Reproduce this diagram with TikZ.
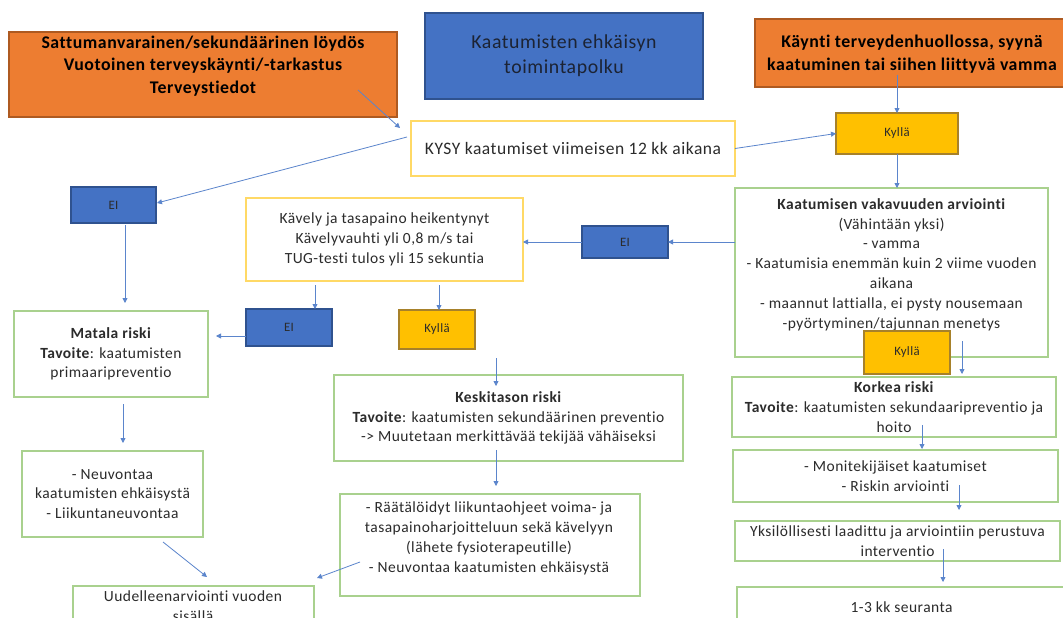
\documentclass[tikz,border=0pt]{standalone}
\usepackage{fontspec}
\setmainfont{Carlito}[LetterSpace=3,Ligatures={CommonOff}]
\usetikzlibrary{arrows.meta,calc}
\definecolor{org}{HTML}{ED7D31}
\definecolor{orgD}{HTML}{AE5A21}
\definecolor{blu}{HTML}{4472C4}
\definecolor{bluD}{HTML}{2F528F}
\definecolor{gold}{HTML}{FFC000}
\definecolor{goldD}{HTML}{A7812A}
\definecolor{yel}{HTML}{FFD966}
\definecolor{grn}{HTML}{A9D18E}
\definecolor{tx}{HTML}{2B2B2B}
\definecolor{ttl}{HTML}{1C2333}
\definecolor{arrc}{HTML}{5B85CC}
\begin{document}
\begin{tikzpicture}[x=1pt,y=-1pt,
  base/.style={inner sep=0pt, outer sep=0pt, align=center, text=tx},
  orgbox/.style={base, fill=org, draw=orgD, line width=1.2pt},
  bluebox/.style={base, fill=blu, draw=bluD, line width=1.2pt},
  kbox/.style={base, fill=gold, draw=goldD, line width=1.2pt},
  ybox/.style={base, fill=white, draw=yel, line width=1.6pt},
  gbox/.style={base, fill=white, draw=grn, line width=1.6pt},
  sz/.style n args={2}{minimum width=#1, minimum height=#2},
  body/.style={font=\fontsize{15.5pt}{19.8pt}\selectfont},
  small/.style={font=\fontsize{12.8pt}{16pt}\selectfont},
  big/.style={font=\fontsize{17.8pt}{22.5pt}\selectfont\bfseries, text=black},
  txt/.style={base, body},
  arr/.style={draw=arrc, line width=0.8pt, -{Triangle[length=5pt,width=5pt]}}
]
\useasboundingbox (0,0) rectangle (1063,618);
\fill[white] (0,0) rectangle (1063,618);

% top row
\node[orgbox, sz={388}{85}] (orgL) at (203,74.5) {};
\node[base, big] (orgLt) at (203,66) {Sattumanvarainen/sekundäärinen löydös\\Vuotoinen terveyskäynti/-tarkastus\\Terveystiedot};
\node[bluebox, sz={278}{86}, text=ttl, font=\fontsize{19.8pt}{25pt}\selectfont] (title) at (564,56) {Kaatumisten ehkäisyn\\toimintapolku};
\node[orgbox, sz={311}{68}] (orgR) at (910.5,53) {};
\node[base, big] (orgRt) at (912,54) {Käynti terveydenhuollossa, syynä\\kaatuminen tai siihen liittyvä vamma};

\node[ybox, sz={324}{55}, font=\fontsize{17.5pt}{20pt}\selectfont] (kysy) at (573,148.5) {KYSY kaatumiset viimeisen 12 kk aikana};
\node[kbox, sz={122}{41}, small] (kylT) at (897,133.5) {Kyllä};

% assessment
\node[gbox, sz={313}{169}] (vak) at (891.5,272.5) {};
\node[txt] (vakt) at (891.5,264.5) {\textbf{Kaatumisen vakavuuden arviointi}\\(Vähintään yksi)\\- vamma\\- Kaatumisia enemmän kuin 2 viime vuoden\\aikana\\- maannut lattialla, ei pysty nousemaan\\-pyörtyminen/tajunnan menetys};
\node[kbox, sz={86}{43}, small] (kylL) at (907,352.5) {Kyllä};
\node[bluebox, sz={86}{32}, small] (eiR) at (625,242) {EI};

\node[ybox, sz={277}{83}, body] (kav) at (384.5,239.5) {Kävely ja tasapaino heikentynyt\\Kävelyvauhti yli 0,8 m/s tai\\TUG-testi tulos yli 15 sekuntia};
\node[bluebox, sz={85}{36}, small] (eiTL) at (113.5,205) {EI};
\node[gbox, sz={194}{86}, body] (mat) at (111,354) {\textbf{Matala riski}\\\textbf{Tavoite}: kaatumisten\\primaaripreventio};
\node[bluebox, sz={86}{37}, small] (eiM) at (289,327.5) {EI};
\node[kbox, sz={76}{39}, small] (kylM) at (437,329.5) {Kyllä};

\node[gbox, sz={349}{86}, body] (kesk) at (508.5,418) {\textbf{Keskitason riski}\\\textbf{Tavoite}: kaatumisten sekundäärinen preventio\\-> Muutetaan merkittävää tekijää vähäiseksi};
\node[gbox, sz={324}{60}, body] (kork) at (894,407) {\textbf{Korkea riski}\\\textbf{Tavoite}: kaatumisten sekundaaripreventio ja\\hoito};
\node[gbox, sz={325}{52}, body] (moni) at (895.5,476) {- Monitekijäiset kaatumiset\\- Riskin arviointi};
\node[gbox, sz={325}{40}, body] (yks) at (897.5,541) {Yksilöllisesti laadittu ja arviointiin perustuva\\interventio};
\node[gbox, sz={329}{40}, body] (seur) at (901.5,607) {1-3 kk seuranta};

\node[gbox, sz={181}{86}, body] (neuv) at (112.5,494) {- Neuvontaa\\kaatumisten ehkäisystä\\- Liikuntaneuvontaa};
\node[gbox, sz={300}{102}] (raat) at (490,545) {};
\node[txt] (raatt) at (489,538.5) {- Räätälöidyt liikuntaohjeet voima- ja\\tasapainoharjoitteluun sekä kävelyyn\\(lähete fysioterapeutille)\\- Neuvontaa kaatumisten ehkäisystä};
\node[gbox, sz={241}{64}] (uud) at (193.5,618) {};
\node[txt] (uudt) at (193,606) {Uudelleenarviointi vuoden\\sisällä};

% connectors
\draw[arr] ($(orgL.south east)+(-39,-27)$) -- ($(kysy.north west)+(-11,7)$);
\draw[arr] ($(kysy.west)+(-4,-11.5)$) -- ($(eiTL.east)+(1,-2)$);
\draw[arr] (kysy.east) -- (kylT.west);
\draw[arr] ($(kylT.north |- orgR.south)+(0,-12)$) -- (kylT.north);
\draw[arr] (kylT.south) -- (kylT.south |- vak.north);
\draw[arr] (eiR.east -| vak.west) -- (eiR.east);
\draw[arr] (eiR.west) -- (eiR.west -| kav.east);
\draw[arr] ($(eiTL.south)+(11.5,2)$) -- ($(mat.north)+(14,-8)$);
\draw[arr] ($(kav.south)+(-69.5,4)$) -- ($(eiM.north)+(26,0)$);
\draw[arr] ($(kav.south)+(54.5,4)$) -- ($(kylM.north)+(2,0)$);
\draw[arr] ($(eiM.west)+(0,8.5)$) -- ($(mat.east)+(8,-18)$);
\draw[arr] ($(kylM.south)+(59,9)$) -- ($(kesk.north)+(-12.5,11)$);
\draw[arr] ($(kylL.east)+(12,-11.5)$) -- ($(kork.north)+(68,-3)$);
\draw[arr] ($(mat.south)+(12,7)$) -- ($(neuv.north)+(10.5,-8)$);
\draw[arr] ($(kesk.south)+(-12.5,-11)$) -- ($(raat.north)+(6,-8)$);
\draw[arr] ($(kork.south)+(28,-12)$) -- ($(moni.north)+(26.5,-1)$);
\draw[arr] ($(moni.south)+(63.5,-17)$) -- ($(yks.north)+(61.5,-11)$);
\draw[arr] ($(yks.south)+(45.5,-12)$) -- ($(seur.north)+(41.5,-5)$);
\draw[arr] ($(neuv.south)+(50.5,5)$) -- ($(uud.north)+(13.5,-9)$);
\draw[arr] ($(raat.west)+(20,17)$) -- ($(uud.north east)+(3,-8)$);
\end{tikzpicture}
\end{document}
